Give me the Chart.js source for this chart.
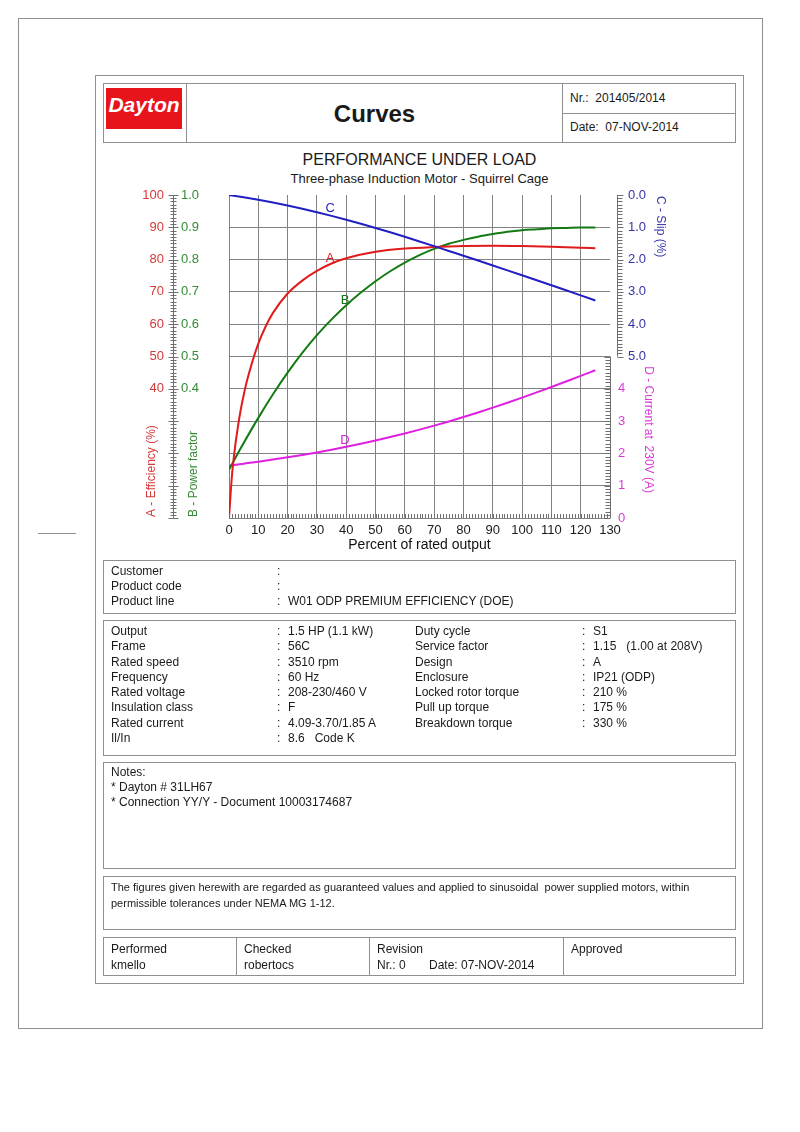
<!DOCTYPE html>
<html>
<head>
<meta charset="utf-8">
<title>Curves</title>
<script src="https://cdn.jsdelivr.net/npm/chart.js@4.4.1/dist/chart.umd.min.js"></script>
<style>
  body { margin: 0; background: #fff; font-family: "Liberation Sans", Arial, sans-serif; color: #1a1a1a; }
  #page { position: relative; width: 800px; height: 1132px; overflow: hidden; }
  .box { position: absolute; border: 1px solid #8f8f8f; box-sizing: border-box; }
  .line { position: absolute; background: #8f8f8f; }
  .t { position: absolute; white-space: nowrap; font-size: 12px; line-height: 15px; }
  #chartWrap { position: absolute; left: 100px; top: 185px; width: 640px; height: 380px; }
</style>
</head>
<body>
<div id="page">
  <!-- page frames -->
  <div class="box" style="left:18px;top:18px;width:745px;height:1011px;"></div>
  <div class="box" style="left:95px;top:75px;width:649px;height:909px;"></div>
  <div class="line" style="left:38px;top:533px;width:38px;height:1px;"></div>

  <!-- header -->
  <div class="box" style="left:103px;top:83px;width:633px;height:60px;"></div>
  <div class="line" style="left:186px;top:83px;width:1px;height:60px;"></div>
  <div class="line" style="left:562px;top:83px;width:1px;height:60px;"></div>
  <div class="line" style="left:562px;top:113px;width:174px;height:1px;"></div>
  <div style="position:absolute;left:106px;top:88px;width:76px;height:41px;background:#e8141c;"></div>
  <div class="t" style="left:106px;top:93px;width:76px;text-align:center;color:#fff;font-weight:bold;font-style:italic;font-size:21px;line-height:24px;">Dayton</div>
  <div class="t" style="left:187px;top:100px;width:375px;text-align:center;font-weight:bold;font-size:24px;line-height:28px;">Curves</div>
  <div class="t" style="left:570px;top:91px;">Nr.:&nbsp; 201405/2014</div>
  <div class="t" style="left:570px;top:120px;">Date:&nbsp; 07-NOV-2014</div>

  <!-- chart titles -->
  <div class="t" style="left:103px;top:150px;width:633px;text-align:center;font-size:16px;line-height:20px;">PERFORMANCE UNDER LOAD</div>
  <div class="t" style="left:103px;top:171px;width:633px;text-align:center;font-size:13px;line-height:16px;">Three-phase Induction Motor - Squirrel Cage</div>

  <div id="chartWrap"><canvas id="myChart" width="640" height="380"></canvas></div>

  <!-- customer -->
  <div class="box" style="left:103px;top:560px;width:633px;height:54px;"></div>
  <div class="t" style="left:111px;top:564px;">Customer<br>Product code<br>Product line</div>
  <div class="t" style="left:277px;top:564px;">:<br>:<br>:</div>
  <div class="t" style="left:288px;top:564px;"><br><br>W01 ODP PREMIUM EFFICIENCY (DOE)</div>

  <!-- data sheet -->
  <div class="box" style="left:103px;top:620px;width:633px;height:136px;"></div>
  <div class="t" style="left:111px;top:624px;line-height:15.3px;">Output<br>Frame<br>Rated speed<br>Frequency<br>Rated voltage<br>Insulation class<br>Rated current<br>Il/In</div>
  <div class="t" style="left:277px;top:624px;line-height:15.3px;">:<br>:<br>:<br>:<br>:<br>:<br>:<br>:</div>
  <div class="t" style="left:288px;top:624px;line-height:15.3px;">1.5 HP (1.1 kW)<br>56C<br>3510 rpm<br>60 Hz<br>208-230/460 V<br>F<br>4.09-3.70/1.85 A<br>8.6&nbsp;&nbsp; Code K</div>
  <div class="t" style="left:415px;top:624px;line-height:15.3px;">Duty cycle<br>Service factor<br>Design<br>Enclosure<br>Locked rotor torque<br>Pull up torque<br>Breakdown torque</div>
  <div class="t" style="left:582px;top:624px;line-height:15.3px;">:<br>:<br>:<br>:<br>:<br>:<br>:</div>
  <div class="t" style="left:593px;top:624px;line-height:15.3px;">S1<br>1.15&nbsp;&nbsp; (1.00 at 208V)<br>A<br>IP21 (ODP)<br>210 %<br>175 %<br>330 %</div>

  <!-- notes -->
  <div class="box" style="left:103px;top:762px;width:633px;height:107px;"></div>
  <div class="t" style="left:111px;top:765px;">Notes:<br>* Dayton # 31LH67<br>* Connection YY/Y - Document 10003174687</div>

  <!-- disclaimer -->
  <div class="box" style="left:103px;top:876px;width:633px;height:54px;"></div>
  <div class="t" style="left:111px;top:879px;font-size:11px;line-height:16px;">The figures given herewith are regarded as guaranteed values and applied to sinusoidal&nbsp; power supplied motors, within<br>permissible tolerances under NEMA MG 1-12.</div>

  <!-- signatures -->
  <div class="box" style="left:103px;top:937px;width:633px;height:39px;"></div>
  <div class="line" style="left:236px;top:937px;width:1px;height:39px;"></div>
  <div class="line" style="left:369px;top:937px;width:1px;height:39px;"></div>
  <div class="line" style="left:563px;top:937px;width:1px;height:39px;"></div>
  <div class="t" style="left:111px;top:941px;line-height:16px;">Performed<br>kmello</div>
  <div class="t" style="left:244px;top:941px;line-height:16px;">Checked<br>robertocs</div>
  <div class="t" style="left:377px;top:941px;line-height:16px;">Revision<br>Nr.: 0&nbsp;&nbsp;&nbsp;&nbsp;&nbsp;&nbsp; Date: 07-NOV-2014</div>
  <div class="t" style="left:571px;top:941px;line-height:16px;">Approved</div>
</div>

<script>
// Hodnoty (x = procento jmenoviteho vykonu)
const effLoad = [0, 1, 2, 3, 4, 5, 6, 8, 10, 12.5, 15, 20, 25, 30, 35, 40, 50, 60, 70, 80, 90, 100, 110, 120, 125];
const effValues = [0, 13, 21.5, 28, 33.5, 38, 42, 48.5, 54, 59.3, 63.5, 69.5, 73.5, 76.5, 78.8, 80.4, 82.4, 83.4, 83.9, 84.2, 84.3, 84.2, 84.0, 83.7, 83.5];

const load = [0, 5, 10, 15, 20, 25, 30, 35, 40, 45, 50, 55, 60, 65, 70, 75, 80, 85, 90, 95, 100, 105, 110, 115, 120, 125];
const pfValues = [0.150, 0.232, 0.310, 0.383, 0.450, 0.511, 0.566, 0.615, 0.659, 0.698, 0.733, 0.764, 0.791, 0.814, 0.833, 0.849, 0.861, 0.871, 0.879, 0.886, 0.891, 0.894, 0.897, 0.898, 0.899, 0.899];
const slipValues = [0, 0.072, 0.150, 0.235, 0.327, 0.427, 0.535, 0.647, 0.765, 0.889, 1.019, 1.155, 1.295, 1.438, 1.584, 1.732, 1.880, 2.030, 2.181, 2.333, 2.486, 2.640, 2.795, 2.951, 3.108, 3.266];
const currentValues = [1.62, 1.682, 1.745, 1.811, 1.880, 1.953, 2.031, 2.115, 2.205, 2.300, 2.400, 2.506, 2.618, 2.736, 2.860, 2.990, 3.126, 3.268, 3.416, 3.569, 3.727, 3.889, 4.055, 4.225, 4.399, 4.576];

// popisky os
const effTicks = ['40', '50', '60', '70', '80', '90', '100'];
const pfTicks = ['0.4', '0.5', '0.6', '0.7', '0.8', '0.9', '1.0'];
const slipTicks = ['0.0', '1.0', '2.0', '3.0', '4.0', '5.0'];
const currentTicks = ['0', '1', '2', '3', '4'];

const RED = '#e01b1b', GREEN = '#137a13', BLUE = '#1f1fc4', MAGENTA = '#e020e0';
const RED_TXT = '#d43a3a', GREEN_TXT = '#348c34', BLUE_TXT = '#3434a8', MAGENTA_TXT = '#d83ad8';
const GRID = '#828282';

Chart.defaults.font.family = '"Liberation Sans", Arial, sans-serif';

function toPoints(xs, ys) {
    return xs.map((v, i) => ({ x: v, y: ys[i] }));
}

// vlastni osy vlevo a vpravo (jemne dilky, popisky, nadpisy)
const axisDecor = {
    id: 'axisDecor',
    afterDraw(chart) {
        const c = chart.ctx;
        const { x, eff, pf, slip, cur } = chart.scales;
        const area = chart.chartArea;
        c.save();
        c.lineWidth = 1;
        c.strokeStyle = '#6f6f6f';

        // leva osa
        const lx = Math.round(area.left - 56) + 0.5;
        c.beginPath();
        c.moveTo(lx, eff.getPixelForValue(0));
        c.lineTo(lx, eff.getPixelForValue(100));
        for (let v = 0; v <= 100; v++) {
            const y = Math.round(eff.getPixelForValue(v)) + 0.5;
            const len = v % 10 === 0 ? 5 : 3;
            c.moveTo(lx - len, y);
            c.lineTo(lx + len, y);
        }
        c.stroke();

        c.font = '13px "Liberation Sans", Arial, sans-serif';
        c.textBaseline = 'middle';
        c.textAlign = 'right';
        c.fillStyle = RED_TXT;
        effTicks.forEach(t => c.fillText(t, area.left - 65, eff.getPixelForValue(parseFloat(t))));
        c.textAlign = 'left';
        c.fillStyle = GREEN_TXT;
        pfTicks.forEach(t => c.fillText(t, area.left - 48, pf.getPixelForValue(parseFloat(t))));

        // spodni osa - jemne dilky
        c.beginPath();
        for (let v = 0; v <= 130; v++) {
            const px = Math.round(x.getPixelForValue(v)) + 0.5;
            c.moveTo(px, area.bottom);
            c.lineTo(px, area.bottom - 4);
        }
        c.stroke();

        // osa skluzu (vpravo nahore)
        const sx = Math.round(area.right + 7) + 0.5;
        c.beginPath();
        c.moveTo(sx, slip.getPixelForValue(0));
        c.lineTo(sx, slip.getPixelForValue(5));
        for (let i = 0; i <= 50; i++) {
            const y = Math.round(slip.getPixelForValue(i / 10)) + 0.5;
            c.moveTo(sx, y);
            c.lineTo(sx + (i % 10 === 0 ? 6 : 5), y);
        }
        c.stroke();
        c.fillStyle = BLUE_TXT;
        slipTicks.forEach(t => c.fillText(t, area.right + 18, slip.getPixelForValue(parseFloat(t))));

        // osa proudu (vpravo dole)
        const cx = Math.round(area.right) + 0.5;
        c.beginPath();
        c.moveTo(cx, cur.getPixelForValue(0));
        c.lineTo(cx, cur.getPixelForValue(5));
        for (let i = 0; i <= 50; i++) {
            const y = Math.round(cur.getPixelForValue(i / 10)) + 0.5;
            c.moveTo(cx, y);
            c.lineTo(cx - (i % 10 === 0 ? 6 : 5), y);
        }
        c.stroke();
        c.fillStyle = MAGENTA_TXT;
        currentTicks.forEach(t => c.fillText(t, area.right + 8, cur.getPixelForValue(parseFloat(t))));

        // nadpisy os
        c.font = '12px "Liberation Sans", Arial, sans-serif';
        function rotated(text, px, py, angle, color) {
            c.save();
            c.translate(px, py);
            c.rotate(angle);
            c.fillStyle = color;
            c.textAlign = 'left';
            c.textBaseline = 'middle';
            c.fillText(text, 0, 0);
            c.restore();
        }
        rotated('A - Efficiency (%)', area.left - 77, area.bottom - 1, -Math.PI / 2, RED_TXT);
        rotated('B - Power factor', area.left - 35, area.bottom - 1, -Math.PI / 2, GREEN_TXT);
        rotated('C - Slip (%)', area.right + 50, area.top + 1, Math.PI / 2, BLUE_TXT);
        rotated('D - Current at  230V (A)', area.right + 38, cur.getPixelForValue(4.7), Math.PI / 2, MAGENTA_TXT);

        // pismena u krivek
        c.font = '13px "Liberation Sans", Arial, sans-serif';
        c.textAlign = 'center';
        c.fillStyle = BLUE;
        c.fillText('C', x.getPixelForValue(34.5), slip.getPixelForValue(0.43));
        c.fillStyle = RED;
        c.fillText('A', x.getPixelForValue(34.5), eff.getPixelForValue(80.5));
        c.fillStyle = GREEN;
        c.fillText('B', x.getPixelForValue(39.6), pf.getPixelForValue(0.675));
        c.fillStyle = MAGENTA;
        c.fillText('D', x.getPixelForValue(39.6), cur.getPixelForValue(2.41));
        c.restore();
    }
};

const ctx = document.getElementById('myChart').getContext('2d');

const myChart = new Chart(ctx, {
    type: 'line',
    data: {
        datasets: [{
            label: 'C - Slip (%)',
            data: toPoints(load, slipValues),
            yAxisID: 'slip',
            borderColor: BLUE
        }, {
            label: 'A - Efficiency (%)',
            data: toPoints(effLoad, effValues),
            yAxisID: 'eff',
            borderColor: RED
        }, {
            label: 'B - Power factor',
            data: toPoints(load, pfValues),
            yAxisID: 'pf',
            borderColor: GREEN
        }, {
            label: 'D - Current at 230V (A)',
            data: toPoints(load, currentValues),
            yAxisID: 'cur',
            borderColor: MAGENTA
        }]
    },
    options: {
        responsive: false,
        animation: false,
        events: [],
        layout: { padding: { top: 10, left: 129, right: 130, bottom: 7 } },
        elements: {
            line: { borderWidth: 2, cubicInterpolationMode: 'monotone', fill: false },
            point: { radius: 0 }
        },
        plugins: {
            legend: { display: false },
            tooltip: { enabled: false }
        },
        scales: {
            x: {
                type: 'linear',
                min: 0,
                max: 130,
                ticks: {
                    stepSize: 10,
                    autoSkip: false,
                    maxRotation: 0,
                    padding: 5,
                    color: '#1a1a1a',
                    font: { size: 13 }
                },
                grid: {
                    drawTicks: false,
                    color: c => c.tick && c.tick.value === 130 ? 'rgba(0,0,0,0)' : GRID
                },
                border: { display: false },
                title: {
                    display: true,
                    text: 'Percent of rated output',
                    color: '#111',
                    font: { size: 14 }
                },
                afterFit: s => { s.height = 40; }
            },
            eff: {
                position: 'left',
                min: 0,
                max: 100,
                ticks: { stepSize: 10, display: false },
                grid: {
                    drawTicks: false,
                    color: c => c.tick && c.tick.value === 100 ? 'rgba(0,0,0,0)' : GRID
                },
                border: { display: false },
                afterFit: s => { s.width = 0; }
            },
            pf: { display: false, position: 'left', min: 0, max: 1 },
            slip: { display: false, position: 'right', min: 0, max: 10, reverse: true },
            cur: { display: false, position: 'right', min: 0, max: 10 }
        }
    },
    plugins: [axisDecor]
});
</script>
</body>
</html>
